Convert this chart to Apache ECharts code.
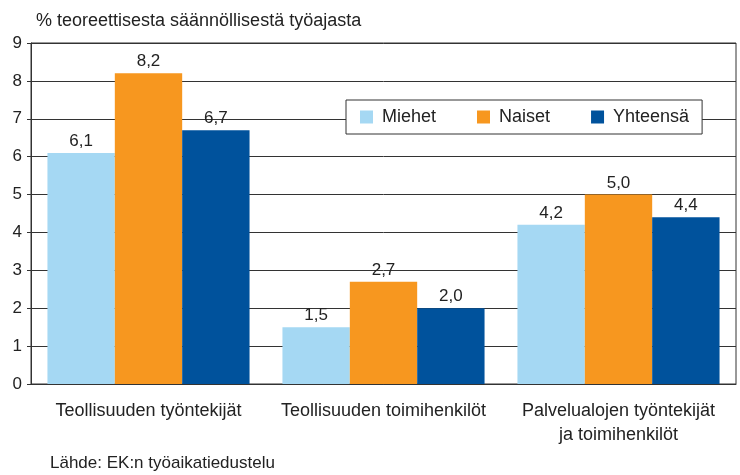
<!DOCTYPE html>
<html>
<head>
<meta charset="utf-8">
<script src="https://cdn.jsdelivr.net/npm/echarts@6/dist/echarts.min.js"></script>
<style>html,body{margin:0;padding:0;background:#fff}#c{width:740px;height:475px}</style>
</head>
<body>
<div id="c"></div>
<script>
const categories = ['Teollisuuden työntekijät', 'Teollisuuden toimihenkilöt', 'Palvelualojen työntekijät\nja toimihenkilöt'];
const seriesNames = ['Miehet', 'Naiset', 'Yhteensä'];
const miehet = [6.1, 1.5, 4.2];
const naiset = [8.2, 2.7, 5.0];
const yhteensa = [6.7, 2.0, 4.4];
const colors = ['#a5d8f3', '#f7971f', '#00529c'];
const FONT = 'Liberation Sans, Arial, sans-serif';

const chart = echarts.init(document.getElementById('c'));
const fmt = p => p.value.toFixed(1).replace('.', ',');
const mk = (name, data, i) => ({
  name, type: 'bar', data, barGap: '0%', barCategoryGap: '14%',
  itemStyle: { color: colors[i] },
  label: { show: true, position: 'top', distance: 3, formatter: fmt, fontSize: 17, color: '#222', fontFamily: FONT }
});
chart.setOption({
  animation: false,
  textStyle: { fontFamily: FONT },
  title: { text: '% teoreettisesta säännöllisestä työajasta', left: 31, top: 7,
    textStyle: { fontSize: 18, fontWeight: 'normal', color: '#222', fontFamily: FONT } },
  legend: {
    left: 346, top: 100, padding: [8, 13, 8, 14], itemGap: 41,
    itemWidth: 13, itemHeight: 13, icon: 'rect',
    backgroundColor: '#fff', borderColor: '#333', borderWidth: 1,
    textStyle: { fontSize: 18, color: '#222', padding: [0, 0, 0, 4], fontFamily: FONT },
    data: seriesNames
  },
  grid: { left: 31, right: 4, top: 43, bottom: 91, show: true, borderColor: '#333', borderWidth: 1, backgroundColor: 'transparent' },
  xAxis: {
    type: 'category', data: categories,
    axisLine: { lineStyle: { color: '#333' } }, axisTick: { show: false },
    axisLabel: { interval: 0, hideOverlap: false, fontSize: 18, color: '#222', margin: 15, lineHeight: 24, fontFamily: FONT }
  },
  yAxis: {
    type: 'value', min: 0, max: 9, interval: 1,
    axisLine: { show: true, lineStyle: { color: '#333' } },
    axisTick: { show: true, length: 4, lineStyle: { color: '#333' } },
    axisLabel: { fontSize: 17, color: '#222', margin: 9, fontFamily: FONT },
    splitLine: { lineStyle: { color: '#333', width: 1 } }
  },
  graphic: [{ type: 'text', left: 50, top: 455, style: { text: 'Lähde: EK:n työaikatiedustelu', fontSize: 17, fill: '#222', fontFamily: FONT } }],
  series: [mk(seriesNames[0], miehet, 0), mk(seriesNames[1], naiset, 1), mk(seriesNames[2], yhteensa, 2)]
});
</script>
</body>
</html>
